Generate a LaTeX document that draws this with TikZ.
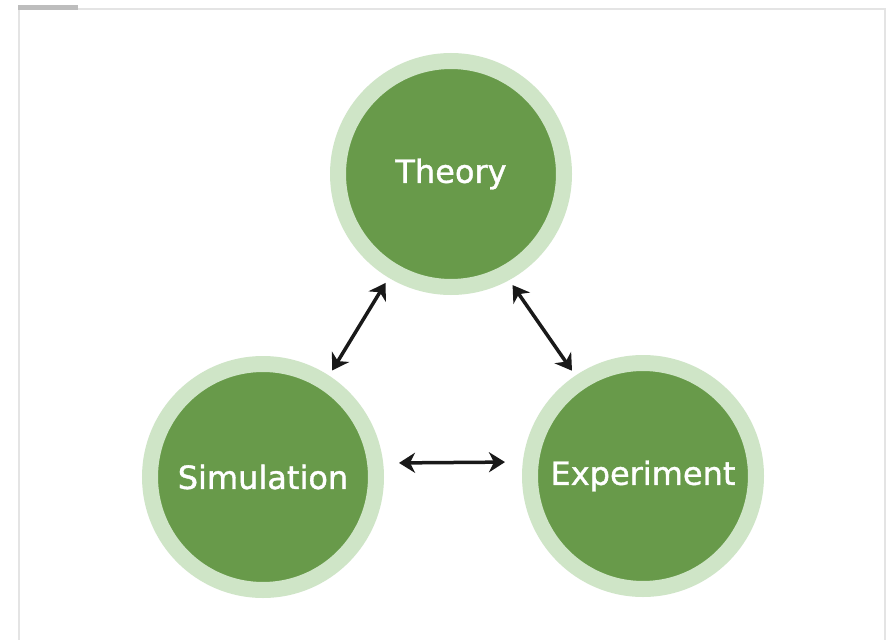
\documentclass[tikz,border=0pt]{standalone}
\usepackage{fontspec}
\setmainfont{DejaVu Sans}[BoldFont={DejaVu Sans}, BoldFeatures={FakeBold=1.2}]
\usetikzlibrary{arrows.meta}
\definecolor{leafgreen}{HTML}{689A4A}
\definecolor{palegreen}{HTML}{CFE5C7}
\definecolor{framegray}{HTML}{E4E4E4}
\definecolor{tabgray}{HTML}{BDBDBD}
\begin{document}
\begin{tikzpicture}[x=1pt, y=-1pt, font=\fontsize{32}{38}\selectfont\bfseries]
    \tikzstyle{node_style} = [circle, draw=palegreen, line width=16pt, fill=leafgreen, text=white, minimum size=226pt, inner sep=0pt, outer sep=14pt]
    \tikzstyle{arrow_style} = [{Stealth[length=16pt,width=20pt,inset=5pt]}-{Stealth[length=16pt,width=20pt,inset=5pt]}, black!90, line width=3.5pt]
    \tikzstyle{frame_style} = [framegray, line width=2pt]

    \useasboundingbox[fill=white] (0,0) rectangle (887,640);
    \draw[frame_style] (19,640) -- (19,9) -- (885,9) -- (885,640);
    \fill[tabgray] (18,5) rectangle (78,10);

    \node[node_style] (n1) at (451,174) {Theory};
    \node[node_style] (n2) at (263,477) {Simulation};
    \node[node_style] (n3) at (643,476) {Experiment};

    \draw[arrow_style] (n1.239) -- (n2.57);
    \draw[arrow_style] (n1.299) -- (n3.124);
    \draw[arrow_style, shorten <=9pt, shorten >=11pt] ([yshift=14pt]n2.east) -- ([yshift=14pt]n3.west);
\end{tikzpicture}
\end{document}
